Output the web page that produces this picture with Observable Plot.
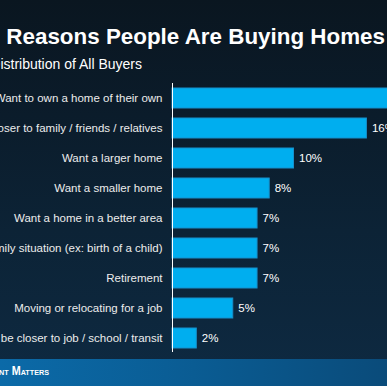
<!DOCTYPE html>
<html>
<head>
<meta charset="utf-8">
<script src="https://cdn.jsdelivr.net/npm/d3@7"></script>
<script src="https://cdn.jsdelivr.net/npm/@observablehq/plot@0.6"></script>
<style>
html, body { margin: 0; padding: 0; width: 387px; height: 386px; overflow: hidden; background: #0b1a26; }
#wrap { position: relative; width: 387px; height: 386px; overflow: hidden;
  background: linear-gradient(180deg, #0a1620 0%, #0b1c2b 30%, #0c2336 60%, #0e2a42 100%);
  font-family: Arial, "Liberation Sans", sans-serif; }
#chart { position: absolute; left: 0; top: 0; }
#chart svg { background: transparent !important; display: block; }
#title { position: absolute; right: 2px; top: 26px; white-space: nowrap; color: #fff;
  font-size: 22.4px; line-height: 22px; font-weight: bold; }
#subtitle { position: absolute; right: 245px; top: 57px; white-space: nowrap; color: #fff;
  font-size: 14px; line-height: 14px; }
#footer { position: absolute; left: 0; top: 359px; width: 387px; height: 27px;
  background: linear-gradient(90deg, #0b6aa8 0%, #0a5c93 50%, #0a4b7a 100%); }
#brand { position: absolute; right: 338px; top: 6px; white-space: nowrap; color: #fff;
  font-size: 12px; line-height: 12px; font-weight: bold; font-variant: small-caps;
  transform: scaleX(0.9); transform-origin: right center; }
</style>
</head>
<body>
<div id="wrap">
  <div id="chart"></div>
  <div id="title">Top Reasons People Are Buying Homes</div>
  <div id="subtitle">Distribution of All Buyers</div>
  <div id="footer"><div id="brand">Keeping Current Matters</div></div>
</div>
<script>
const reasons = [
  "Want to own a home of their own",
  "Want to be closer to family / friends / relatives",
  "Want a larger home",
  "Want a smaller home",
  "Want a home in a better area",
  "Change in family situation (ex: birth of a child)",
  "Retirement",
  "Moving or relocating for a job",
  "Want to be closer to job / school / transit"
];
const shares = [30, 16, 10, 8, 7, 7, 7, 5, 2];
const valueLabels = ["30%", "16%", "10%", "8%", "7%", "7%", "7%", "5%", "2%"];

const data = reasons.map((r, i) => ({reason: r, share: shares[i], label: valueLabels[i]}));

const chart = Plot.plot({
  width: 387,
  height: 359,
  marginLeft: 172,
  marginRight: 0,
  marginTop: 83,
  marginBottom: 7,
  style: {background: "transparent", overflow: "visible"},
  x: {domain: [0, 215 / 12.15], axis: null},
  y: {domain: reasons, axis: null, paddingInner: 1 / 3, paddingOuter: 0.15},
  marks: [
    Plot.barX(data, {x: "share", y: "reason", fill: "#00aeef", stroke: "#1690cc", strokeWidth: 1}),
    Plot.text(data, {x: "share", y: "reason", text: "label", textAnchor: "start", dx: 5,
      fill: "#ffffff", fontSize: 11.5, fontFamily: "Arial, 'Liberation Sans', sans-serif"}),
    Plot.text(data, {x: 0, y: "reason", text: "reason", textAnchor: "end", dx: -10,
      fill: "#ececec", fontSize: 11.5, fontFamily: "Arial, 'Liberation Sans', sans-serif"}),
    Plot.ruleX([0], {stroke: "#ffffff", strokeWidth: 1})
  ]
});
document.getElementById("chart").appendChild(chart);
</script>
</body>
</html>
